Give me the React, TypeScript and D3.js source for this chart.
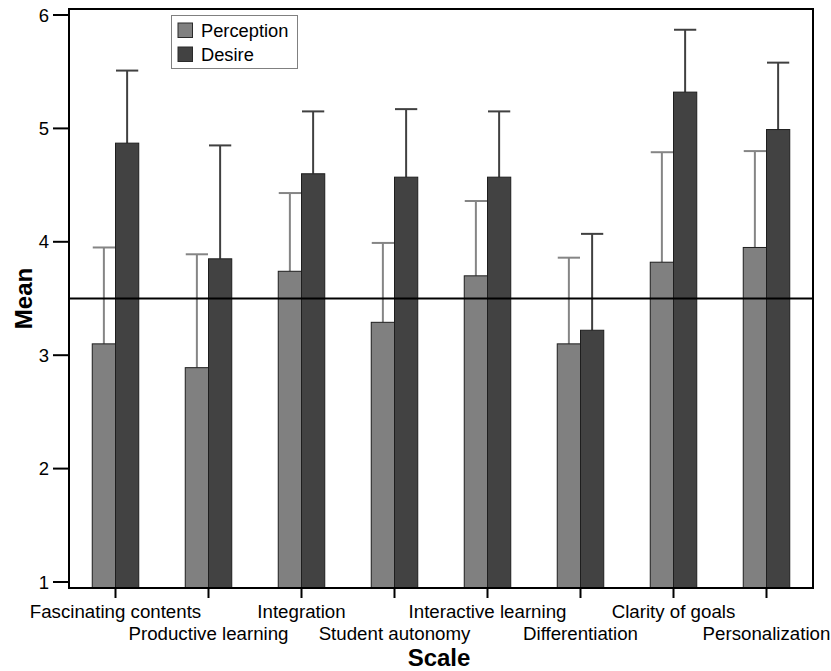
import React from "react";
import * as d3 from "d3";

const categories = [
  "Fascinating contents",
  "Productive learning",
  "Integration",
  "Student autonomy",
  "Interactive learning",
  "Differentiation",
  "Clarity of goals",
  "Personalization",
];
const seriesNames = ["Perception", "Desire"];
const perceptionMean = [3.10, 2.89, 3.74, 3.29, 3.70, 3.10, 3.82, 3.95];
const perceptionSD = [0.85, 1.00, 0.69, 0.70, 0.66, 0.76, 0.97, 0.85];
const desireMean = [4.87, 3.85, 4.60, 4.57, 4.57, 3.22, 5.32, 4.99];
const desireSD = [0.64, 1.00, 0.55, 0.60, 0.58, 0.85, 0.55, 0.59];
const yTicks = [1, 2, 3, 4, 5, 6];
const referenceValue = 3.5;

const W = 831;
const H = 671;
const left = 69;
const right = 813;
const top = 9;
const bottom = 588;
const FONT = "'Liberation Sans', Arial, sans-serif";
const fills = ["#808080", "#424242"];
const errColors = ["#858585", "#404040"];

export default function App() {
  const y = d3.scaleLinear().domain([0.947, 6.053]).range([bottom, top]);
  const x = d3.scaleBand<string>().domain(categories).range([left, right]).padding(0);
  const step = x.bandwidth();
  const sub = d3
    .scaleBand<string>()
    .domain(seriesNames)
    .range([step * 0.25, step * 0.75])
    .padding(0);
  const bw = sub.bandwidth();
  const means = [perceptionMean, desireMean];
  const sds = [perceptionSD, desireSD];

  return (
    <svg
      width={W}
      height={H}
      style={{ position: "absolute", left: 0, top: 0, background: "#fff" }}
      fontFamily={FONT}
    >
      <rect x={0} y={0} width={W} height={H} fill="#fff" />
      {/* error bars */}
      {categories.map((c, i) =>
        seriesNames.map((s, k) => {
          const cx = (x(c) as number) + (sub(s) as number) + bw / 2;
          const m = means[k][i];
          const up = m + sds[k][i];
          return (
            <g key={`e-${c}-${s}`} stroke={errColors[k]} strokeWidth={2}>
              <line x1={cx} x2={cx} y1={y(m)} y2={y(up)} />
              <line x1={cx - bw / 2 + 0.5} x2={cx + bw / 2 - 0.5} y1={y(up)} y2={y(up)} />
            </g>
          );
        })
      )}
      {/* bars */}
      {categories.map((c, i) =>
        seriesNames.map((s, k) => {
          const bx = (x(c) as number) + (sub(s) as number);
          const m = means[k][i];
          return (
            <rect
              key={`b-${c}-${s}`}
              x={bx}
              y={y(m)}
              width={bw}
              height={bottom - y(m)}
              fill={fills[k]}
              stroke="#1e1e1e"
              strokeWidth={1}
            />
          );
        })
      )}
      {/* reference line */}
      <line x1={left} x2={right} y1={y(referenceValue)} y2={y(referenceValue)} stroke="#000" strokeWidth={2} />
      {/* frame */}
      <rect x={left} y={top} width={right - left} height={bottom - top} fill="none" stroke="#000" strokeWidth={2} />
      {/* y ticks */}
      {yTicks.map((t) => (
        <g key={`yt-${t}`}>
          <line x1={53} x2={left} y1={y(t)} y2={y(t)} stroke="#000" strokeWidth={2} />
          <text x={49} y={y(t)} dy="0.36em" textAnchor="end" fontSize={18.5} fill="#000">
            {t}
          </text>
        </g>
      ))}
      {/* x ticks and labels */}
      {categories.map((c, i) => {
        const cx = (x(c) as number) + step / 2;
        return (
          <g key={`xt-${c}`}>
            <line x1={cx} x2={cx} y1={bottom} y2={bottom + 10} stroke="#000" strokeWidth={2} />
            <text x={cx} y={i % 2 === 0 ? 618 : 640} textAnchor="middle" fontSize={18.7} fill="#000">
              {c}
            </text>
          </g>
        );
      })}
      {/* axis titles */}
      <text x={(left + right) / 2 - 2} y={666} textAnchor="middle" fontSize={24} fontWeight="bold" fill="#000">
        Scale
      </text>
      <text
        transform={`translate(32, ${y(referenceValue)}) rotate(-90)`}
        textAnchor="middle"
        fontSize={24}
        fontWeight="bold"
        fill="#000"
      >
        Mean
      </text>
      {/* legend */}
      <g>
        <rect x={171.5} y={15.5} width={126} height={53} fill="#fff" stroke="#808080" strokeWidth={1} />
        {seriesNames.map((s, k) => (
          <g key={`lg-${s}`}>
            <rect x={178} y={23 + k * 24} width={14.5} height={14.5} fill={fills[k]} stroke="#2a2a2a" strokeWidth={1} />
            <text x={201} y={36.5 + k * 24} fontSize={18.3} fill="#000">
              {s}
            </text>
          </g>
        ))}
      </g>
    </svg>
  );
}
